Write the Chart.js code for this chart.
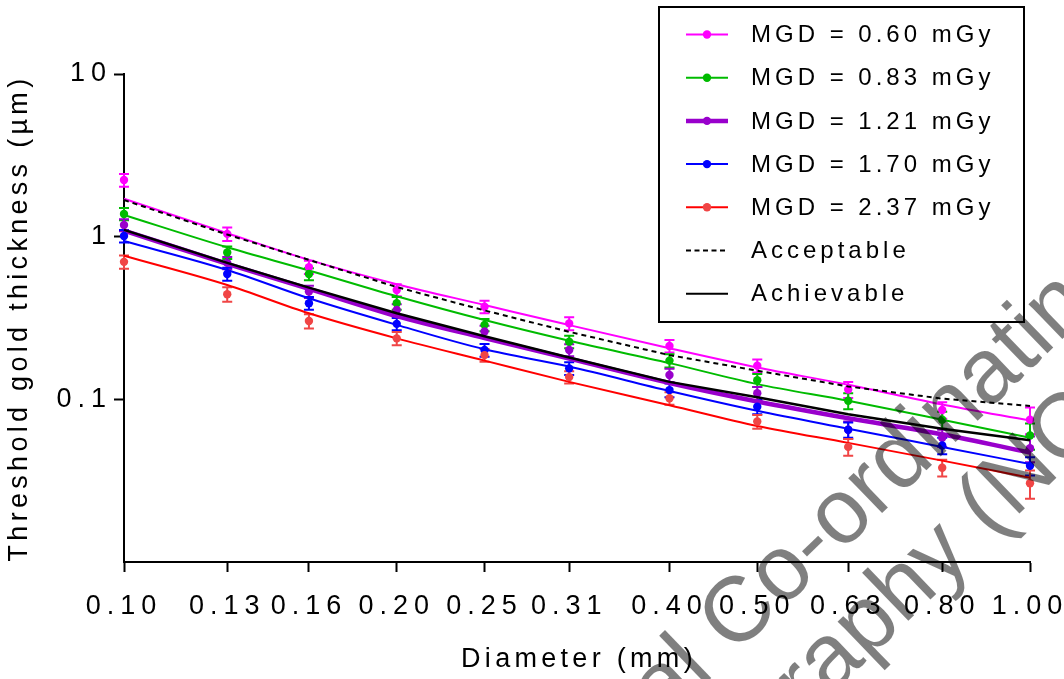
<!DOCTYPE html>
<html>
<head>
<meta charset="utf-8">
<script src="https://cdn.jsdelivr.net/npm/chart.js@4.4.1/dist/chart.umd.min.js"></script>
<style>
  html, body { margin: 0; padding: 0; background: #fff; }
  #wrap { width: 1064px; height: 679px; position: relative; }
</style>
</head>
<body>
<div id="wrap"><canvas id="c" width="1064" height="679"></canvas></div>
<script>
// ---- data ----
const diameters = [0.10, 0.13, 0.16, 0.20, 0.25, 0.31, 0.40, 0.50, 0.63, 0.80, 1.00];
const yTickValues = [0.1, 1, 10];
const yTickLabels = ['0.1', '1', '10'];

const seriesLabels = ['MGD = 0.60 mGy', 'MGD = 0.83 mGy', 'MGD = 1.21 mGy', 'MGD = 1.70 mGy', 'MGD = 2.37 mGy'];
const refLabels = ['Acceptable', 'Achievable'];

const mgd060Fit = [1.71, 1.05, 0.72, 0.51, 0.38, 0.286, 0.206, 0.157, 0.123, 0.093, 0.074];
const mgd060Pts = [2.23, 1.04, 0.65, 0.47, 0.371, 0.293, 0.213, 0.161, 0.115, 0.086, 0.075];
const mgd060Err = [0.20, 0.10, 0.06, 0.04, 0.033, 0.027, 0.019, 0.015, 0.013, 0.010, 0.014];

const mgd083Fit = [1.36, 0.86, 0.62, 0.43, 0.307, 0.229, 0.167, 0.124, 0.098, 0.075, 0.058];
const mgd083Pts = [1.38, 0.80, 0.59, 0.39, 0.287, 0.226, 0.173, 0.131, 0.098, 0.075, 0.060];
const mgd083Err = [0.12, 0.07, 0.05, 0.035, 0.025, 0.02, 0.016, 0.012, 0.011, 0.009, 0.011];

const mgd121Fit = [1.09, 0.68, 0.477, 0.325, 0.238, 0.178, 0.126, 0.097, 0.0765, 0.061, 0.047];
const mgd121Pts = [1.18, 0.69, 0.46, 0.354, 0.261, 0.201, 0.141, 0.109, 0.065, 0.058, 0.050];
const mgd121Err = [0.10, 0.06, 0.04, 0.03, 0.022, 0.017, 0.013, 0.010, 0.008, 0.007, 0.009];

const mgd170Fit = [0.94, 0.624, 0.418, 0.287, 0.203, 0.159, 0.1125, 0.085, 0.066, 0.051, 0.040];
const mgd170Pts = [1.01, 0.59, 0.39, 0.291, 0.201, 0.155, 0.114, 0.090, 0.065, 0.052, 0.039];
const mgd170Err = [0.09, 0.055, 0.035, 0.025, 0.018, 0.014, 0.011, 0.009, 0.007, 0.006, 0.005];

const mgd237Fit = [0.764, 0.505, 0.338, 0.237, 0.173, 0.128, 0.092, 0.0686, 0.054, 0.042, 0.033];
const mgd237Pts = [0.70, 0.443, 0.303, 0.237, 0.187, 0.137, 0.1015, 0.073, 0.051, 0.038, 0.0305];
const mgd237Err = [0.065, 0.045, 0.03, 0.022, 0.017, 0.012, 0.009, 0.007, 0.006, 0.0045, 0.006];

const acceptable = [1.68, 1.03, 0.72, 0.49, 0.352, 0.26, 0.187, 0.150, 0.12, 0.101, 0.091];
const achievable = [1.10, 0.69, 0.486, 0.338, 0.244, 0.181, 0.128, 0.103, 0.081, 0.066, 0.056];

const xTitle = 'Diameter (mm)';
const yTitle = 'Threshold gold thickness (\u00b5m)';
const watermark1a = 'National ';
const watermark1b = 'Co-ordinating Centre';
const watermark2a = 'Mammography ';
const watermark2b = '(NCCPM)';

// ---- styles ----
const lineColors = ['#ff00ff', '#00bb00', '#9900cc', '#0000ff', '#ff0000'];
const pointColors = ['#ff00ff', '#00bb00', '#9900cc', '#0000ff', '#f04545'];
const lineWidths = [2, 2, 4.5, 2, 2];
const FONT = '"Liberation Sans", Arial, sans-serif';
const SPACING = '6px';

const fits = [mgd060Fit, mgd083Fit, mgd121Fit, mgd170Fit, mgd237Fit];
const pts = [mgd060Pts, mgd083Pts, mgd121Pts, mgd170Pts, mgd237Pts];
const errs = [mgd060Err, mgd083Err, mgd121Err, mgd170Err, mgd237Err];

const toXY = arr => arr.map((v, i) => ({ x: diameters[i], y: v }));

const datasets = [];
datasets.push({ label: refLabels[0], data: toXY(acceptable), showLine: true, borderColor: '#000', borderWidth: 2,
  borderDash: [5, 4], pointRadius: 0, tension: 0, clip: false, order: 0 });
datasets.push({ label: refLabels[1], data: toXY(achievable), showLine: true, borderColor: '#000', borderWidth: 2.5,
  pointRadius: 0, tension: 0, clip: false, order: 1 });
for (let s = 0; s < 5; s++) {
  datasets.push({ label: seriesLabels[s] + ' fit', data: toXY(fits[s]), showLine: true, borderColor: lineColors[s],
    borderWidth: lineWidths[s], pointRadius: 0, cubicInterpolationMode: 'monotone', clip: false, order: 10 - s });
}
for (let s = 0; s < 5; s++) {
  datasets.push({ label: seriesLabels[s], data: toXY(pts[s]), showLine: false, backgroundColor: pointColors[s],
    borderColor: pointColors[s], pointRadius: 4.2, pointBorderWidth: 0, clip: false, order: 5 - s / 10 });
}

const plugin = {
  id: 'custom',
  beforeLayout(chart) { chart.ctx.letterSpacing = SPACING; },
  beforeDraw(chart) {
    const c = chart.ctx;
    c.save();
    c.letterSpacing = '0px';
    c.fillStyle = '#fff';
    c.fillRect(0, 0, chart.width, chart.height);
    c.restore();
    c.letterSpacing = SPACING;
  },
  beforeDatasetsDraw(chart) {
    const c = chart.ctx, xs = chart.scales.x, ys = chart.scales.y;
    c.save();
    c.lineWidth = 2;
    for (let s = 0; s < 5; s++) {
      c.strokeStyle = pointColors[s];
      for (let i = 0; i < diameters.length; i++) {
        const x = xs.getPixelForValue(diameters[i]);
        const y1 = ys.getPixelForValue(pts[s][i] + errs[s][i]);
        const y2 = ys.getPixelForValue(pts[s][i] - errs[s][i]);
        c.beginPath();
        c.moveTo(x, y1); c.lineTo(x, y2);
        c.moveTo(x - 5, y1); c.lineTo(x + 5, y1);
        c.moveTo(x - 5, y2); c.lineTo(x + 5, y2);
        c.stroke();
      }
    }
    c.restore();
  },
  afterDraw(chart) {
    const c = chart.ctx;
    const ca = chart.chartArea;
    // axis titles
    c.save();
    c.letterSpacing = '4.3px';
    c.fillStyle = '#000';
    c.font = '27px ' + FONT;
    c.textAlign = 'center';
    c.textBaseline = 'middle';
    c.fillText(xTitle, (ca.left + ca.right) / 2 + 2, 660);
    c.translate(20, (ca.top + ca.bottom) / 2);
    c.rotate(-Math.PI / 2);
    c.fillText(yTitle, 0, 0);
    c.restore();

    // legend
    c.save();
    c.letterSpacing = '4px';
    c.fillStyle = '#fff';
    c.fillRect(659, 7, 365, 315);
    c.strokeStyle = '#000';
    c.lineWidth = 2;
    c.strokeRect(659, 7, 365, 315);
    c.font = '24px ' + FONT;
    c.textAlign = 'left';
    c.textBaseline = 'middle';
    const allLabels = seriesLabels.concat(refLabels);
    for (let r = 0; r < allLabels.length; r++) {
      const y = 34.5 + r * 43.2;
      c.save();
      if (r < 5) {
        c.strokeStyle = lineColors[r];
        c.lineWidth = lineWidths[r];
        c.beginPath(); c.moveTo(686, y); c.lineTo(728, y); c.stroke();
        c.fillStyle = pointColors[r];
        c.beginPath(); c.arc(707, y, 4.2, 0, Math.PI * 2); c.fill();
      } else {
        c.strokeStyle = '#000';
        c.lineWidth = 2;
        if (r === 5) c.setLineDash([5, 3.5]);
        c.beginPath(); c.moveTo(686, y); c.lineTo(728, y); c.stroke();
      }
      c.restore();
      c.fillStyle = '#000';
      c.fillText(allLabels[r], 751, y + 1);
    }
    c.restore();

    // watermark
    c.save();
    c.letterSpacing = '0px';
    c.fillStyle = 'rgba(0,0,0,0.5)';
    c.font = '92px ' + FONT;
    c.textBaseline = 'alphabetic';
    const ang = -44 * Math.PI / 180;
    c.save();
    c.translate(734, 656); c.rotate(ang);
    c.textAlign = 'right'; c.fillText(watermark1a, 0, 0);
    c.textAlign = 'left'; c.fillText(watermark1b, 0, 0);
    c.restore();
    c.save();
    c.translate(992, 540); c.rotate(ang);
    c.textAlign = 'right'; c.fillText(watermark2a, 0, 0);
    c.textAlign = 'left'; c.fillText(watermark2b, 0, 0);
    c.restore();
    c.restore();
  }
};

new Chart(document.getElementById('c'), {
  type: 'scatter',
  data: { datasets },
  options: {
    responsive: false,
    animation: false,
    events: [],
    layout: { padding: { top: 74, right: 34, left: 0, bottom: 0 } },
    plugins: { legend: { display: false }, tooltip: { enabled: false } },
    scales: {
      x: {
        type: 'logarithmic',
        min: 0.1, max: 1.0,
        afterBuildTicks(scale) { scale.ticks = diameters.map(v => ({ value: v })); },
        afterFit(scale) { scale.height = 117; scale.paddingLeft = 0; scale.paddingRight = 0; },
        ticks: {
          autoSkip: false, maxRotation: 0, minRotation: 0,
          color: '#000', font: { family: FONT, size: 27 }, padding: 18,
          callback: (v) => Number(v).toFixed(2)
        },
        grid: { drawOnChartArea: false, drawTicks: true, tickLength: 10, tickWidth: 2, tickColor: '#000', color: '#000' },
        border: { display: true, color: '#000', width: 2 }
      },
      y: {
        type: 'logarithmic',
        min: 0.01, max: 10,
        afterBuildTicks(scale) { scale.ticks = yTickValues.map(v => ({ value: v })); },
        afterFit(scale) { scale.width = 124; scale.paddingTop = 0; scale.paddingBottom = 0; },
        ticks: {
          color: '#000', font: { family: FONT, size: 27 }, padding: 2,
          callback: (v) => yTickLabels[yTickValues.indexOf(v)] ?? ''
        },
        grid: { drawOnChartArea: false, drawTicks: true, tickLength: 10, tickWidth: 2, tickColor: '#000', color: '#000' },
        border: { display: true, color: '#000', width: 2 }
      }
    }
  },
  plugins: [plugin]
});
</script>
</body>
</html>
